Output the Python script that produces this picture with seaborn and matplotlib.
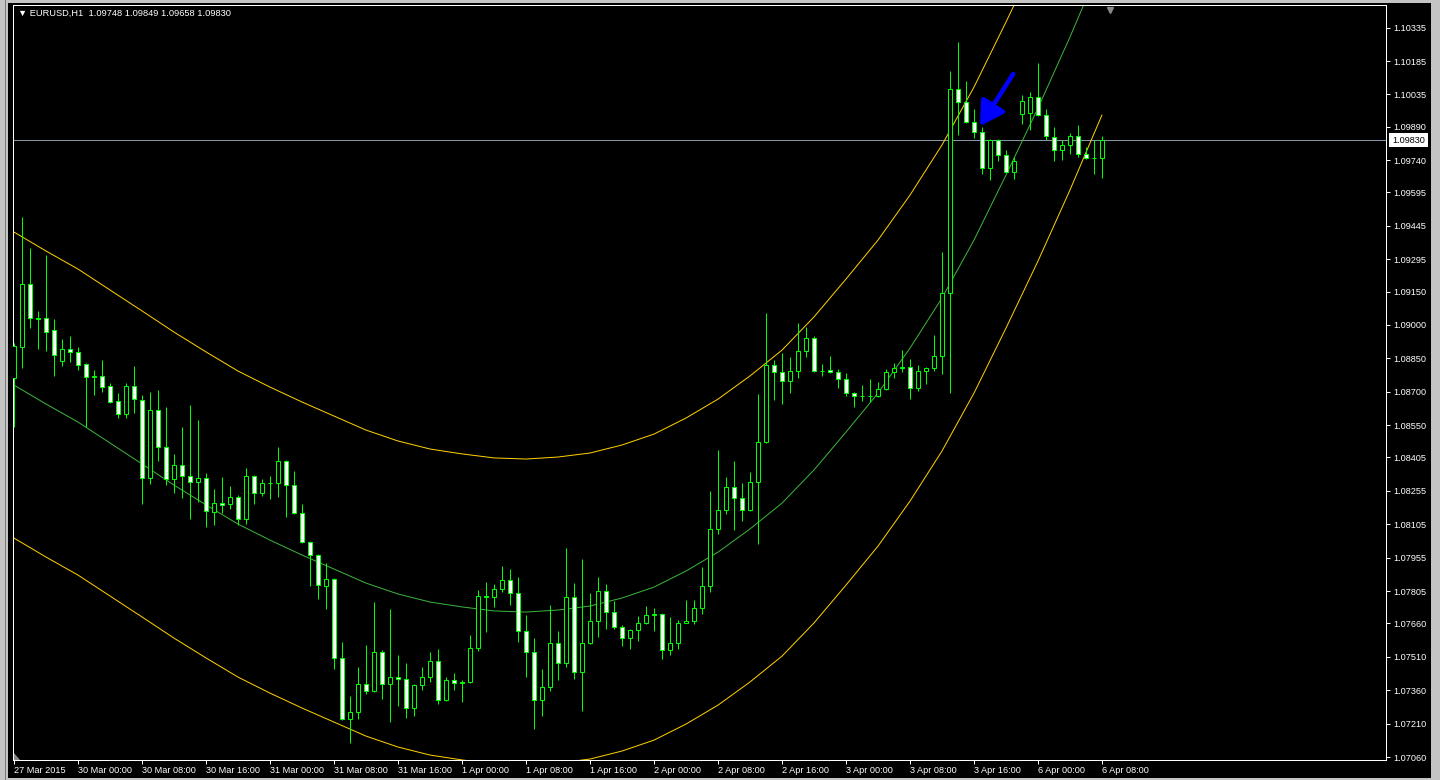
import numpy as np
import pandas as pd
import matplotlib
matplotlib.use('Agg')
import matplotlib.pyplot as plt
import matplotlib.transforms as mtransforms
from matplotlib.patches import Rectangle, Polygon
import seaborn as sns

# EURUSD H1 bars, 27 Mar 2015 16:00 .. 6 Apr 2015 08:00
symbol = 'EURUSD,H1'
opens = [1.08762, 1.08901, 1.09184, 1.09031, 1.09031, 1.08977, 1.08838, 1.08892, 1.08879, 1.08825,
         1.08768, 1.08771, 1.08726, 1.08659, 1.08600, 1.08726, 1.08663, 1.08313, 1.08618, 1.08452,
         1.08308, 1.08371, 1.08322, 1.08295, 1.08313, 1.08160, 1.08200, 1.08196, 1.08228, 1.08129,
         1.08322, 1.08245, 1.08290, 1.08292, 1.08389, 1.08281, 1.08156, 1.08025, 1.07967, 1.07828,
         1.07859, 1.07505, 1.07231, 1.07262, 1.07388, 1.07356, 1.07532, 1.07388, 1.07419, 1.07410,
         1.07280, 1.07383, 1.07419, 1.07491, 1.07316, 1.07406, 1.07392, 1.07397, 1.07550, 1.07783,
         1.07779, 1.07814, 1.07855, 1.07796, 1.07626, 1.07532, 1.07316, 1.07374, 1.07572, 1.07482,
         1.07779, 1.07442, 1.07572, 1.07671, 1.07805, 1.07711, 1.07644, 1.07594, 1.07630, 1.07662,
         1.07698, 1.07700, 1.07541, 1.07572, 1.07662, 1.07671, 1.07729, 1.07828, 1.08084, 1.08169,
         1.08272, 1.08223, 1.08169, 1.08295, 1.08474, 1.08820, 1.08789, 1.08748, 1.08793, 1.08883,
         1.08941, 1.08793, 1.08798, 1.08789, 1.08757, 1.08694, 1.08681, 1.08683, 1.08681, 1.08712,
         1.08789, 1.08807, 1.08809, 1.08717, 1.08793, 1.08807, 1.08861, 1.09143, 1.10059, 1.10001,
         1.09911, 1.09866, 1.09705, 1.09830, 1.09763, 1.09687, 1.09947, 1.09952, 1.10024, 1.09943,
         1.09844, 1.09786, 1.09808, 1.09848, 1.09768, 1.09750, 1.09748]
highs = [1.08919, 1.09485, 1.09346, 1.09063, 1.09314, 1.09027, 1.08937, 1.08950, 1.08901, 1.08829,
         1.08798, 1.08843, 1.08739, 1.08694, 1.08739, 1.08816, 1.08685, 1.08699, 1.08708, 1.08632,
         1.08420, 1.08542, 1.08641, 1.08573, 1.08335, 1.08263, 1.08317, 1.08277, 1.08236, 1.08358,
         1.08326, 1.08308, 1.08322, 1.08452, 1.08392, 1.08344, 1.08196, 1.08030, 1.07970, 1.07931,
         1.07862, 1.07576, 1.07334, 1.07464, 1.07563, 1.07756, 1.07541, 1.07725, 1.07518, 1.07482,
         1.07388, 1.07464, 1.07532, 1.07545, 1.07419, 1.07437, 1.07406, 1.07608, 1.07810, 1.07846,
         1.07837, 1.07918, 1.07904, 1.07868, 1.07698, 1.07594, 1.07455, 1.07743, 1.07626, 1.07999,
         1.07841, 1.07949, 1.07796, 1.07868, 1.07837, 1.07761, 1.07653, 1.07635, 1.07693, 1.07738,
         1.07729, 1.07707, 1.07689, 1.07675, 1.07765, 1.07765, 1.07913, 1.08254, 1.08439, 1.08317,
         1.08389, 1.08290, 1.08340, 1.08690, 1.09054, 1.08843, 1.08874, 1.08856, 1.09009, 1.08991,
         1.08950, 1.08825, 1.08861, 1.08802, 1.08784, 1.08697, 1.08730, 1.08757, 1.08744, 1.08802,
         1.08829, 1.08888, 1.08847, 1.08820, 1.08811, 1.08955, 1.09328, 1.10140, 1.10270, 1.10095,
         1.09970, 1.09889, 1.09835, 1.09835, 1.09786, 1.09754, 1.10032, 1.10046, 1.10176, 1.09970,
         1.09889, 1.09830, 1.09862, 1.09898, 1.09799, 1.09830, 1.09849]
lows = [1.08542, 1.08807, 1.08986, 1.08892, 1.08883, 1.08771, 1.08816, 1.08834, 1.08798, 1.08542,
        1.08685, 1.08699, 1.08650, 1.08582, 1.08582, 1.08605, 1.08196, 1.08286, 1.08389, 1.08281,
        1.08245, 1.08223, 1.08129, 1.08205, 1.08093, 1.08102, 1.08156, 1.08174, 1.08102, 1.08106,
        1.08196, 1.08232, 1.08219, 1.08228, 1.08138, 1.08151, 1.08021, 1.07828, 1.07770, 1.07725,
        1.07455, 1.07228, 1.07123, 1.07231, 1.07343, 1.07350, 1.07321, 1.07217, 1.07289, 1.07235,
        1.07244, 1.07361, 1.07397, 1.07298, 1.07311, 1.07361, 1.07307, 1.07392, 1.07536, 1.07621,
        1.07734, 1.07801, 1.07743, 1.07576, 1.07419, 1.07186, 1.07244, 1.07356, 1.07406, 1.07464,
        1.07410, 1.07267, 1.07567, 1.07599, 1.07635, 1.07635, 1.07559, 1.07545, 1.07581, 1.07657,
        1.07626, 1.07500, 1.07518, 1.07545, 1.07660, 1.07657, 1.07702, 1.07801, 1.08061, 1.08151,
        1.08079, 1.08120, 1.08165, 1.08016, 1.08470, 1.08663, 1.08645, 1.08694, 1.08762, 1.08856,
        1.08790, 1.08771, 1.08784, 1.08717, 1.08681, 1.08632, 1.08659, 1.08654, 1.08677, 1.08708,
        1.08762, 1.08789, 1.08668, 1.08703, 1.08735, 1.08793, 1.08780, 1.08694, 1.09853, 1.09905,
        1.09839, 1.09678, 1.09651, 1.09736, 1.09684, 1.09655, 1.09902, 1.09875, 1.09940, 1.09830,
        1.09736, 1.09741, 1.09768, 1.09754, 1.09745, 1.09678, 1.09658]
closes = [1.08905, 1.09184, 1.09031, 1.09027, 1.08968, 1.08865, 1.08892, 1.08879, 1.08820, 1.08766,
          1.08771, 1.08721, 1.08654, 1.08600, 1.08726, 1.08668, 1.08313, 1.08618, 1.08452, 1.08308,
          1.08371, 1.08322, 1.08295, 1.08313, 1.08165, 1.08200, 1.08192, 1.08228, 1.08129, 1.08322,
          1.08245, 1.08290, 1.08292, 1.08389, 1.08281, 1.08156, 1.08025, 1.07967, 1.07832, 1.07859,
          1.07505, 1.07231, 1.07262, 1.07388, 1.07356, 1.07532, 1.07388, 1.07419, 1.07410, 1.07280,
          1.07383, 1.07419, 1.07491, 1.07316, 1.07406, 1.07392, 1.07397, 1.07550, 1.07783, 1.07779,
          1.07814, 1.07855, 1.07796, 1.07626, 1.07532, 1.07316, 1.07374, 1.07572, 1.07482, 1.07779,
          1.07442, 1.07572, 1.07671, 1.07805, 1.07711, 1.07644, 1.07594, 1.07630, 1.07662, 1.07698,
          1.07700, 1.07541, 1.07572, 1.07662, 1.07671, 1.07729, 1.07828, 1.08084, 1.08169, 1.08272,
          1.08223, 1.08169, 1.08295, 1.08474, 1.08820, 1.08789, 1.08748, 1.08793, 1.08883, 1.08941,
          1.08793, 1.08795, 1.08789, 1.08757, 1.08694, 1.08681, 1.08683, 1.08681, 1.08712, 1.08789,
          1.08807, 1.08809, 1.08717, 1.08793, 1.08807, 1.08861, 1.09143, 1.10059, 1.10001, 1.09911,
          1.09866, 1.09705, 1.09830, 1.09763, 1.09687, 1.09736, 1.10006, 1.10024, 1.09943, 1.09848,
          1.09786, 1.09808, 1.09848, 1.09768, 1.09750, 1.09748, 1.09830]

# regression channel, sampled every 4 bars
channel_bars = [0, 4, 8, 12, 16, 20, 24, 28, 32, 36, 40, 44, 48, 52, 56, 60, 64, 68,
                72, 76, 80, 84, 88, 92, 96, 100, 104, 108, 112, 116, 120, 124, 128, 132, 136]
channel_mid = [1.08730, 1.08645, 1.08564, 1.08470, 1.08376, 1.08281, 1.08192, 1.08106, 1.08034,
               1.07967, 1.07904, 1.07841, 1.07792, 1.07756, 1.07734, 1.07716, 1.07711, 1.07720,
               1.07738, 1.07774, 1.07823, 1.07895, 1.07980, 1.08084, 1.08200, 1.08349, 1.08519,
               1.08694, 1.08896, 1.09121, 1.09381, 1.09673, 1.09974, 1.10293, 1.10630]
channel_upper = [1.09417, 1.09332, 1.09251, 1.09157, 1.09063, 1.08968, 1.08879, 1.08793, 1.08721,
                 1.08654, 1.08591, 1.08528, 1.08479, 1.08443, 1.08421, 1.08403, 1.08398, 1.08407,
                 1.08425, 1.08461, 1.08510, 1.08582, 1.08667, 1.08771, 1.08887, 1.09036, 1.09206,
                 1.09381, 1.09583, 1.09808, 1.10068, 1.10360, 1.10661, 1.10980, 1.11317]
channel_lower = [1.08043, 1.07958, 1.07877, 1.07783, 1.07689, 1.07594, 1.07505, 1.07419, 1.07347,
                 1.07280, 1.07217, 1.07154, 1.07105, 1.07069, 1.07047, 1.07029, 1.07024, 1.07033,
                 1.07051, 1.07087, 1.07136, 1.07208, 1.07293, 1.07397, 1.07513, 1.07662, 1.07832,
                 1.08007, 1.08209, 1.08434, 1.08694, 1.08986, 1.09287, 1.09606, 1.09943]

tick_bars = [0, 8, 16, 24, 32, 40, 48, 56, 64, 72, 80, 88, 96, 104, 112, 120, 128, 136]
tick_labels = ['27 Mar 2015', '30 Mar 00:00', '30 Mar 08:00', '30 Mar 16:00', '31 Mar 00:00',
               '31 Mar 08:00', '31 Mar 16:00', '1 Apr 00:00', '1 Apr 08:00', '1 Apr 16:00',
               '2 Apr 00:00', '2 Apr 08:00', '2 Apr 16:00', '3 Apr 00:00', '3 Apr 08:00',
               '3 Apr 16:00', '6 Apr 00:00', '6 Apr 08:00']
price_ticks = [1.10335, 1.10185, 1.10035, 1.09890, 1.09740, 1.09595, 1.09445, 1.09295, 1.09150,
               1.09000, 1.08850, 1.08700, 1.08550, 1.08405, 1.08255, 1.08105, 1.07955, 1.07805,
               1.07660, 1.07510, 1.07360, 1.07210, 1.07060]
current_price = 1.09830

df = pd.DataFrame({'open': opens, 'high': highs, 'low': lows, 'close': closes})
df['bar'] = np.arange(len(df))
channel = pd.DataFrame({'bar': channel_bars, 'mid': channel_mid,
                        'upper': channel_upper, 'lower': channel_lower})

sns.set_theme(style='dark', rc={'axes.facecolor': 'black', 'figure.facecolor': 'black',
                                'savefig.facecolor': 'black'})
plt.rcParams['font.family'] = ['Liberation Sans', 'DejaVu Sans']

W, H = 1440, 780
px = 0.72  # one pixel in points at dpi 100
fig = plt.figure(figsize=(W / 100, H / 100), dpi=100)
ax = fig.add_axes([13 / W, 20 / H, 1373 / W, 755 / H])
ax.set_facecolor('black')

# channel
sns.lineplot(data=channel, x='bar', y='upper', ax=ax, color='#ffd000', linewidth=px, zorder=2)
sns.lineplot(data=channel, x='bar', y='lower', ax=ax, color='#ffd000', linewidth=px, zorder=2)
sns.lineplot(data=channel, x='bar', y='mid', ax=ax, color='#3cb43c', linewidth=px, zorder=2)

# current price line
ax.axhline(current_price, color='#8496a8', lw=px, zorder=1)

# candles
bull = df['close'] >= df['open']
ax.vlines(df['bar'], df['low'], df['high'], color='#00ff00', lw=px, zorder=3)
ax.bar(df['bar'], df['close'] - df['open'], bottom=df['open'], width=0.5,
       color=np.where(bull, 'black', 'white'), edgecolor='#00ff00', linewidth=px, zorder=4)

# blue arrow
ax.annotate('', xy=(120.75, 1.09893), xytext=(124.9, 1.10127),
            arrowprops=dict(arrowstyle='-|>,head_length=0.6,head_width=0.35', color='#0000ff',
                            lw=3.2, mutation_scale=24, shrinkA=0, shrinkB=0), zorder=6)

ax.set_xlim(-0.125, 171.5)
ax.set_ylim(1.070467, 1.104365)
ax.set_xlabel('')
ax.set_ylabel('')
ax.grid(False)

ax.set_xticks(tick_bars)
ax.set_xticklabels(tick_labels, ha='left')
ax.yaxis.tick_right()
ax.set_yticks(price_ticks)
ax.set_yticklabels([f'{p:.5f}' for p in price_ticks])
ax.tick_params(axis='x', bottom=True, top=False, direction='out', length=3, width=px,
               color='white', labelcolor='white', labelsize=6.6, pad=1.5)
ax.tick_params(axis='y', right=True, left=False, direction='out', length=3, width=px,
               color='white', labelcolor='white', labelsize=6.6, pad=2.5)
for s in ax.spines.values():
    s.set_visible(True)
    s.set_color('white')
    s.set_linewidth(px)

# price label on the axis
ax.annotate(f'{current_price:.5f}', xy=(1.0, current_price), xycoords=('axes fraction', 'data'),
            xytext=(6, 0), textcoords='offset pixels', ha='left', va='center', color='black',
            fontsize=6.6, annotation_clip=False, zorder=7,
            bbox=dict(boxstyle='square,pad=0.3', fc='white', ec='none'))

# chart shift marker
trans = mtransforms.blended_transform_factory(ax.transData, ax.transAxes)
ax.plot([137], [0.994], marker='v', ms=5, color='#8a8a8a', transform=trans, clip_on=False,
        zorder=7)

# header text
fig.text(18 / W, 1 - 13 / H,
         f'\u25bc {symbol}  {opens[-1]:.5f} {highs[-1]:.5f} {lows[-1]:.5f} {closes[-1]:.5f}',
         color='white', fontsize=6.7, ha='left', va='center')

# window frame bits
ident = mtransforms.IdentityTransform()
fig.patches.append(Polygon([[14, 20], [20, 20], [14, 27]], closed=True, fc='#8a8a8a', ec='none',
                           transform=ident, figure=fig))
for (x0, y0, w, h) in [(0, 0, 8, H), (1431, 0, 9, H), (0, H - 3, W, 3), (0, 0, W, 2)]:
    fig.patches.append(Rectangle((x0, y0), w, h, fc='#c4c4c4', ec='none',
                                 transform=ident, figure=fig))
fig.patches.append(Rectangle((5, 0), 1, H, fc='#7a7a7a', ec='none', transform=ident, figure=fig))

fig.savefig('out.png', dpi=100, facecolor='black')
